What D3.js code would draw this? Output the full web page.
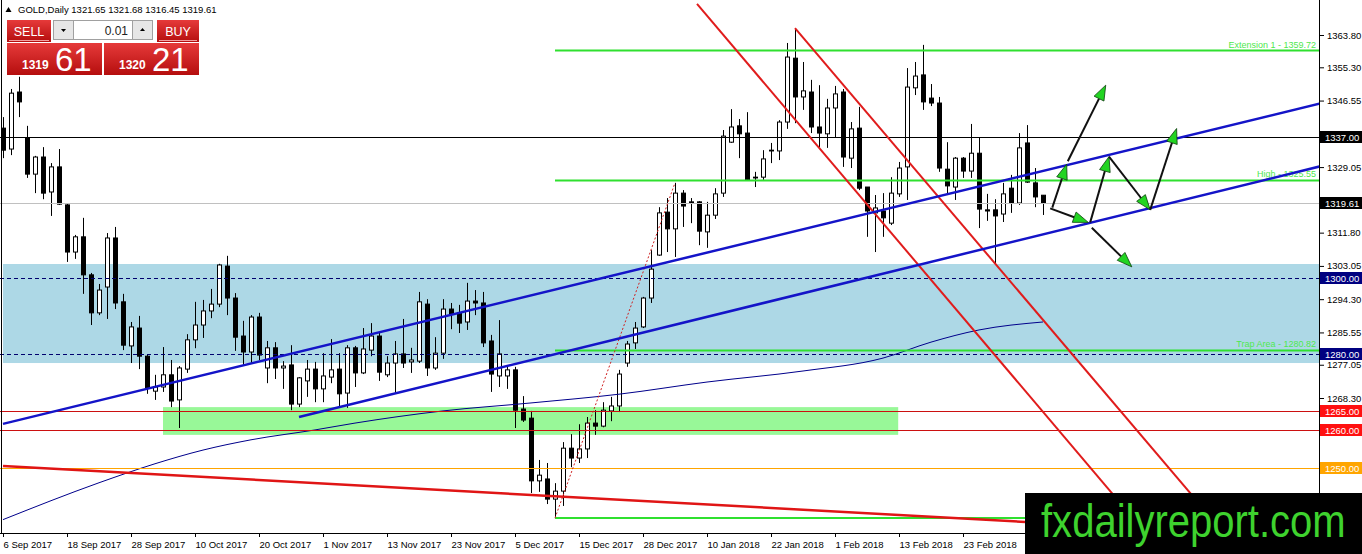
<!DOCTYPE html>
<html>
<head>
<meta charset="utf-8">
<script src="https://cdn.jsdelivr.net/npm/d3@7"></script>
<style>
  html, body { margin: 0; padding: 0; background: #fff; }
  svg { display: block; font-family: "Liberation Sans", Arial, sans-serif; }
</style>
</head>
<body>
<svg id="chart" width="1362" height="554"></svg>
<script>
// GOLD daily, 6 Sep 2017 .. early Mar 2018 (one bar per trading day)
var symbol = "GOLD,Daily";
var lastQuote = [1321.65, 1321.68, 1316.45, 1319.61];

var open = [1339.3,1333.8,1348.8,1336.7,1327.2,1331.7,1322.5,1329.1,1319.1,1306.7,
  1310.7,1300.7,1290.7,1297.5,1310.4,1293.6,1282.0,1286.7,1279.3,1270.1,
  1271.2,1274.4,1267.8,1275.9,1283.6,1287.5,1291.2,1293.0,1303.0,1294.6,
  1284.6,1280.4,1289.6,1276.2,1281.5,1276.2,1277.0,1266.7,1272.8,1275.9,
  1270.7,1273.8,1275.9,1269.6,1281.5,1274.9,1280.9,1284.6,1274.4,1277.5,
  1279.9,1277.8,1278.0,1293.0,1276.2,1280.1,1291.7,1290.7,1288.3,1293.8,
  1293.3,1283.3,1274.1,1274.1,1275.7,1265.4,1263.0,1246.5,1247.0,1241.7,
  1243.8,1255.1,1252.5,1254.9,1261.7,1260.9,1264.9,1266.2,1277.5,1282.8,
  1287.0,1294.6,1305.9,1317.2,1312.8,1322.2,1319.9,1319.9,1312.0,1316.4,
  1322.2,1335.6,1339.9,1338.0,1326.4,1326.4,1333.3,1333.3,1340.9,1357.7,
  1347.5,1348.8,1339.6,1337.8,1344.6,1348.8,1331.4,1339.3,1323.8,1317.0,
  1317.5,1314.3,1322.0,1329.1,1349.9,1353.3,1347.2,1345.9,1328.5,1323.8,
  1331.4,1328.0,1332.7,1317.8,1317.8,1316.7,1323.5,1319.6,1335.4,1324.9,
  1321.65];
var high = [1342.2,1349.6,1352.8,1339.9,1332.0,1334.3,1330.1,1333.8,1319.6,1311.2,
  1315.7,1301.2,1298.3,1311.7,1313.3,1295.7,1288.3,1289.9,1279.6,1274.4,
  1281.7,1278.3,1276.7,1285.1,1293.6,1294.1,1297.0,1303.6,1305.7,1295.9,
  1288.6,1290.1,1290.7,1283.3,1283.0,1278.0,1282.2,1273.8,1278.3,1277.8,
  1280.1,1283.8,1280.1,1282.2,1282.0,1286.7,1288.0,1285.4,1279.3,1283.3,
  1289.1,1281.5,1296.2,1294.3,1284.3,1294.3,1293.3,1292.8,1298.6,1296.7,
  1296.2,1284.9,1288.8,1276.5,1276.5,1268.8,1264.9,1252.0,1251.2,1245.9,
  1256.7,1258.8,1261.4,1263.3,1265.1,1267.2,1268.6,1275.7,1283.3,1288.3,
  1294.9,1307.2,1318.5,1320.9,1324.9,1323.0,1320.9,1320.1,1319.9,1323.5,
  1338.8,1344.3,1341.7,1343.5,1327.8,1333.5,1335.4,1341.4,1361.7,1365.6,
  1356.7,1352.0,1350.6,1347.0,1350.4,1349.6,1340.9,1344.9,1323.8,1321.7,
  1322.2,1326.4,1330.4,1355.1,1356.7,1361.2,1350.9,1347.5,1335.6,1331.7,
  1331.7,1340.4,1336.7,1322.0,1320.6,1324.9,1327.0,1338.0,1340.1,1328.8,
  1321.68];
var low = [1331.4,1332.2,1342.2,1326.2,1322.2,1320.6,1316.2,1319.1,1304.1,1304.9,
  1295.7,1287.5,1290.1,1289.1,1291.7,1280.9,1277.5,1275.9,1269.4,1267.8,
  1269.9,1265.9,1260.4,1274.9,1281.4,1284.1,1289.3,1292.2,1290.1,1280.7,
  1277.0,1277.5,1278.3,1272.2,1273.3,1270.7,1265.1,1265.9,1268.6,1267.2,
  1267.2,1272.2,1265.7,1265.7,1271.2,1274.6,1279.3,1272.8,1273.8,1269.6,
  1276.2,1274.9,1277.5,1274.1,1275.7,1278.6,1286.4,1285.4,1286.2,1290.1,
  1281.7,1269.9,1271.2,1270.7,1260.4,1262.0,1243.3,1243.6,1240.4,1236.7,
  1239.9,1250.1,1251.2,1252.5,1258.6,1260.6,1262.2,1264.6,1276.5,1281.2,
  1286.7,1293.3,1305.7,1306.7,1305.4,1313.3,1314.3,1308.5,1307.8,1315.4,
  1321.2,1335.4,1331.4,1325.4,1323.8,1325.7,1330.1,1330.9,1339.1,1340.6,
  1344.1,1338.0,1334.3,1334.1,1336.7,1329.1,1328.8,1323.0,1310.7,1306.7,
  1310.7,1313.8,1321.2,1320.4,1348.0,1344.1,1345.1,1327.8,1322.2,1320.4,
  1326.2,1326.2,1313.0,1314.9,1303.5,1314.6,1317.0,1319.1,1324.9,1318.5,
  1316.45];
var close = [1333.5,1348.5,1346.2,1327.2,1331.7,1322.2,1329.1,1319.3,1306.7,1310.7,
  1300.7,1290.7,1296.7,1310.4,1293.3,1282.2,1287.0,1279.3,1270.9,1271.2,
  1274.4,1267.5,1276.2,1283.6,1287.5,1291.2,1293.0,1303.3,1294.6,1284.3,
  1280.4,1289.6,1279.6,1281.5,1276.2,1276.7,1266.7,1273.6,1275.9,1270.7,
  1274.1,1275.7,1269.4,1281.5,1274.9,1281.2,1284.6,1275.1,1277.5,1279.9,
  1277.5,1278.3,1293.6,1276.2,1280.1,1291.7,1290.4,1288.0,1293.8,1293.3,
  1282.8,1274.6,1279.9,1275.7,1265.1,1262.5,1246.5,1248.0,1241.7,1243.8,
  1255.1,1252.5,1254.9,1261.7,1260.9,1265.1,1266.2,1274.6,1282.5,1286.7,
  1294.6,1302.2,1317.0,1312.8,1322.2,1318.8,1319.6,1312.2,1316.4,1322.0,
  1337.2,1339.6,1337.8,1325.7,1326.2,1331.2,1333.5,1340.9,1358.0,1347.5,
  1349.1,1339.6,1338.0,1344.6,1348.3,1331.7,1339.1,1323.5,1317.5,1318.3,
  1315.7,1322.2,1328.8,1350.1,1353.0,1346.2,1345.9,1328.8,1324.1,1331.4,
  1328.0,1332.7,1318.0,1317.5,1316.2,1322.0,1319.6,1334.1,1325.1,1321.2,
  1319.61];

var dateTicks = [0, 8, 16, 24, 32, 40, 48, 56, 64, 72, 80, 88, 96, 104, 112, 120];
var dateLabels = ["6 Sep 2017", "18 Sep 2017", "28 Sep 2017", "10 Oct 2017", "20 Oct 2017",
  "1 Nov 2017", "13 Nov 2017", "23 Nov 2017", "5 Dec 2017", "15 Dec 2017", "28 Dec 2017",
  "10 Jan 2018", "22 Jan 2018", "1 Feb 2018", "13 Feb 2018", "23 Feb 2018"];
var priceTicks = [1363.80, 1355.30, 1346.55, 1329.05, 1311.80, 1303.05, 1294.30,
  1285.55, 1277.05, 1268.30, 1259.55];

// 200-day average, read at a few bars
var maBars = [0, 12, 19, 25, 31, 39, 44, 55, 66, 77, 88, 100, 110, 116, 122, 130];
var maValues = [1236.3, 1246.0, 1251.0, 1254.6, 1257.3, 1259.9, 1261.7, 1264.9, 1267.0,
  1269.3, 1272.5, 1275.4, 1278.8, 1283.0, 1286.2, 1288.3];

// horizontal levels drawn on the chart
var levelPrices = [1337.00, 1319.61, 1300.00, 1280.00, 1265.00, 1260.00, 1250.00];
var fibStartBar = 69;
var fibPrices = [1359.72, 1325.55, 1280.82, 1236.7];
var fibNames = ["Extension 1 - 1359.72", "High - 1325.55", "Trap Area - 1280.82", ""];
var blueZone = [1303.55, 1277.5];
var greenZone = [1265.9, 1258.6];
var greenZoneBars = [20, 111.9];

// trend lines as [bar, price] pairs
var channelUp = [[0, 1261.5], [164.375, 1345.65]];
var channelLow = [[37, 1263.3], [164.375, 1329.1]];
var downTrend = [[0, 1250.4], [164.375, 1231.5]];
var redChannelA = [[86.75, 1372.0], [138.4, 1243.8]];
var redChannelB = [[99, 1365.6], [148.4, 1243.3]];
var rallyLine = [[69, 1236.7], [84, 1324.9]];
var arrows = [
  [[131.16, 1318.4], [132.96, 1329.8]],
  [[133.1, 1330.6], [137.84, 1350.6]],
  [[130.9, 1318.2], [135.66, 1314.5]],
  [[135.9, 1314.5], [138.25, 1331.8]],
  [[138.25, 1331.8], [143.4, 1317.8]],
  [[143.4, 1317.8], [146.7, 1339.2]],
  [[136.1, 1313.1], [141.1, 1302.8]]
];

var sellPrice = ["1319", "61"];
var buyPrice = ["1320", "21"];
var lotSize = "0.01";

// ---------------------------------------------------------------
var svg = d3.select("#chart");
var plotR = 1319, plotB = 533;

var x = d3.scaleLinear().domain([0, 164.375]).range([3, 1318]);
var y = d3.scaleLinear().domain([1363.8, 1268.3]).range([35, 398]);

var defs = svg.append("defs");
defs.append("clipPath").attr("id", "plotClip")
  .append("rect").attr("x", 0).attr("y", 0).attr("width", plotR).attr("height", plotB);
var grad = defs.append("linearGradient").attr("id", "redBtn")
  .attr("x1", 0).attr("y1", 0).attr("x2", 0).attr("y2", 1);
grad.append("stop").attr("offset", "0%").attr("stop-color", "#e63a3a");
grad.append("stop").attr("offset", "100%").attr("stop-color", "#b50e0e");

var plot = svg.append("g").attr("clip-path", "url(#plotClip)");

// zones
plot.append("rect")
  .attr("x", x(0)).attr("width", plotR - x(0))
  .attr("y", y(blueZone[0])).attr("height", y(blueZone[1]) - y(blueZone[0]))
  .attr("fill", "#add8e6");
plot.append("rect")
  .attr("x", x(greenZoneBars[0])).attr("width", x(greenZoneBars[1]) - x(greenZoneBars[0]))
  .attr("y", y(greenZone[0])).attr("height", y(greenZone[1]) - y(greenZone[0]))
  .attr("fill", "#98f898");

// candles
var bars = d3.range(open.length).map(function(i) {
  return {i: i, o: open[i], h: high[i], l: low[i], c: close[i]};
});
var candles = plot.append("g");
candles.selectAll("line").data(bars).enter().append("line")
  .attr("x1", function(d) { return Math.round(x(d.i)) + 0.5; })
  .attr("x2", function(d) { return Math.round(x(d.i)) + 0.5; })
  .attr("y1", function(d) { return y(d.h); })
  .attr("y2", function(d) { return y(d.l); })
  .attr("stroke", "#000").attr("stroke-width", 1);
candles.selectAll("rect").data(bars).enter().append("rect")
  .attr("x", function(d) { return Math.round(x(d.i)) - 1.5; })
  .attr("width", 4)
  .attr("y", function(d) { return y(Math.max(d.o, d.c)); })
  .attr("height", function(d) { return Math.max(0.8, Math.abs(y(d.o) - y(d.c))); })
  .attr("fill", function(d) { return d.c >= d.o ? "#fff" : "#000"; })
  .attr("stroke", "#000").attr("stroke-width", 1);

// moving average
plot.append("path")
  .datum(maBars.map(function(b, k) { return [b, maValues[k]]; }))
  .attr("d", d3.line().x(function(d) { return x(d[0]); }).y(function(d) { return y(d[1]); })
    .curve(d3.curveMonotoneX))
  .attr("fill", "none").attr("stroke", "#00008b").attr("stroke-width", 1);

// horizontal levels
var levelLine = d3.scaleOrdinal().domain(levelPrices)
  .range(["#000000", "#c0c0c0", "#00006e", "#00006e", "#cc1010", "#cc1010", "#ffa500"]);
var levelBox = d3.scaleOrdinal().domain(levelPrices)
  .range(["#000000", "#000000", "#000080", "#000080", "#ff1010", "#ff1010", "#ffa500"]);
plot.selectAll("line.level").data(levelPrices).enter().append("line")
  .attr("class", "level")
  .attr("x1", 0).attr("x2", plotR)
  .attr("y1", function(d) { return Math.round(y(d)) + 0.5; })
  .attr("y2", function(d) { return Math.round(y(d)) + 0.5; })
  .attr("stroke", function(d) { return levelLine(d); })
  .attr("stroke-dasharray", function(d) { return (d === 1300 || d === 1280) ? "4,3" : null; })
  .attr("stroke-width", 1);

// fib-style green levels
plot.selectAll("line.fib").data(fibPrices).enter().append("line")
  .attr("class", "fib")
  .attr("x1", x(fibStartBar)).attr("x2", plotR)
  .attr("y1", function(d) { return y(d); }).attr("y2", function(d) { return y(d); })
  .attr("stroke", "#2fe02f").attr("stroke-width", 2);
plot.selectAll("text.fib").data(fibPrices.filter(function(d, k) { return fibNames[k]; }))
  .enter().append("text")
  .attr("class", "fib")
  .attr("x", plotR - 3).attr("y", function(d) { return y(d) - 3; })
  .attr("text-anchor", "end").attr("font-size", 9).attr("fill", "#4ee84e")
  .text(function(d) { return fibNames[fibPrices.indexOf(d)]; });

// trend lines
function ray(seg, toBar) {
  var p1 = seg[0], p2 = seg[1];
  var k = (p2[1] - p1[1]) / (p2[0] - p1[0]);
  return [p1, [toBar, p1[1] + k * (toBar - p1[0])]];
}
function drawSeg(seg, color, width, dash) {
  plot.append("line")
    .attr("x1", x(seg[0][0])).attr("y1", y(seg[0][1]))
    .attr("x2", x(seg[1][0])).attr("y2", y(seg[1][1]))
    .attr("stroke", color).attr("stroke-width", width)
    .attr("stroke-dasharray", dash || null);
}
drawSeg(rallyLine, "#d02020", 1, "2,2");
drawSeg(ray(downTrend, 170), "#e01515", 2.5);
drawSeg(ray(redChannelA, 175), "#e01c1c", 2);
drawSeg(ray(redChannelB, 175), "#e01c1c", 2);
drawSeg(ray(channelUp, 170), "#1414c8", 2.5);
drawSeg(ray(channelLow, 170), "#1414c8", 2.5);

// arrows
arrows.forEach(function(a) {
  var x1 = x(a[0][0]), y1 = y(a[0][1]), x2 = x(a[1][0]), y2 = y(a[1][1]);
  var dx = x2 - x1, dy = y2 - y1, len = Math.hypot(dx, dy);
  var ux = dx / len, uy = dy / len, hl = 15, hw = 5.5;
  var bx = x2 - ux * hl, by = y2 - uy * hl;
  plot.append("line").attr("x1", x1).attr("y1", y1).attr("x2", bx).attr("y2", by)
    .attr("stroke", "#111").attr("stroke-width", 2);
  plot.append("path")
    .attr("d", "M" + x2 + "," + y2 + "L" + (bx - uy * hw) + "," + (by + ux * hw) +
      "L" + (bx + uy * hw) + "," + (by - ux * hw) + "Z")
    .attr("fill", "#22d422").attr("stroke", "#0b3d0b").attr("stroke-width", 0.8);
});

// ---- axes ----
svg.append("line").attr("x1", 1.5).attr("x2", 1.5).attr("y1", 0).attr("y2", plotB)
  .attr("stroke", "#000");
svg.append("line").attr("x1", plotR + 0.5).attr("x2", plotR + 0.5).attr("y1", 0).attr("y2", plotB)
  .attr("stroke", "#000");
svg.append("line").attr("x1", 0).attr("x2", plotR + 1).attr("y1", plotB + 0.5).attr("y2", plotB + 0.5)
  .attr("stroke", "#000");

var yAxis = svg.append("g").attr("transform", "translate(" + (plotR + 1) + ",0)")
  .call(d3.axisRight(y).tickValues(priceTicks).tickSize(4).tickPadding(3)
    .tickFormat(d3.format(".2f")));
yAxis.select(".domain").remove();
yAxis.selectAll("text").attr("font-size", 9.5).attr("font-family", "Liberation Sans, Arial, sans-serif")
  .attr("fill", "#000");

var xAxis = svg.append("g").attr("transform", "translate(0," + plotB + ")")
  .call(d3.axisBottom(x).tickValues(dateTicks).tickSize(4)
    .tickFormat(function(d, k) { return dateLabels[k]; }));
xAxis.select(".domain").remove();
xAxis.selectAll("text").attr("text-anchor", "start").attr("x", 0).attr("y", 15).attr("dy", 0)
  .attr("font-size", 9.5).attr("font-family", "Liberation Sans, Arial, sans-serif").attr("fill", "#000");

// price boxes on the axis
var boxes = svg.append("g").selectAll("g").data(levelPrices).enter().append("g")
  .attr("transform", function(d) { return "translate(" + (plotR + 1) + "," + Math.round(y(d)) + ")"; });
boxes.append("rect").attr("x", 0).attr("y", -6).attr("width", 42).attr("height", 12)
  .attr("fill", function(d) { return levelBox(d); });
boxes.append("text").attr("x", 5).attr("y", 4).attr("font-size", 9.5).attr("fill", "#fff")
  .text(function(d) { return d3.format(".2f")(d); });

// ---- header ----
svg.append("path").attr("d", "M5.5,12L8.5,7L11.5,12Z").attr("fill", "#000");
svg.append("text").attr("x", 18).attr("y", 13).attr("font-size", 9.5).attr("fill", "#000")
  .text(symbol + "  " + lastQuote.map(d3.format(".2f")).join(" "));

// ---- one-click trading panel ----
var panel = svg.append("g");
panel.append("rect").attr("x", 7).attr("y", 20).attr("width", 44).attr("height", 22).attr("fill", "url(#redBtn)");
panel.append("rect").attr("x", 157).attr("y", 20).attr("width", 42).attr("height", 22).attr("fill", "url(#redBtn)");
panel.append("line").attr("x1", 9).attr("x2", 49).attr("y1", 40.5).attr("y2", 40.5).attr("stroke", "#f3a0a0");
panel.append("line").attr("x1", 159).attr("x2", 197).attr("y1", 40.5).attr("y2", 40.5).attr("stroke", "#f3a0a0");
panel.append("text").attr("x", 29).attr("y", 35.5).attr("text-anchor", "middle")
  .attr("font-size", 12.5).attr("fill", "#fff").text("SELL");
panel.append("text").attr("x", 178).attr("y", 35.5).attr("text-anchor", "middle")
  .attr("font-size", 12.5).attr("fill", "#fff").text("BUY");
panel.append("rect").attr("x", 53.5).attr("y", 20.5).attr("width", 99).attr("height", 19)
  .attr("fill", "#fff").attr("stroke", "#a0a0a0");
panel.append("rect").attr("x", 53.5).attr("y", 20.5).attr("width", 20).attr("height", 19)
  .attr("fill", "#e6e6e6").attr("stroke", "#a0a0a0");
panel.append("rect").attr("x", 132.5).attr("y", 20.5).attr("width", 20).attr("height", 19)
  .attr("fill", "#e6e6e6").attr("stroke", "#a0a0a0");
panel.append("path").attr("d", "M61,29L66,29L63.5,32Z").attr("fill", "#000");
panel.append("path").attr("d", "M140,31L145,31L142.5,28Z").attr("fill", "#000");
panel.append("text").attr("x", 128).attr("y", 34.5).attr("text-anchor", "end")
  .attr("font-size", 12).attr("fill", "#222").text(lotSize);

[[7, sellPrice], [104, buyPrice]].forEach(function(p) {
  panel.append("rect").attr("x", p[0]).attr("y", 43).attr("width", 95).attr("height", 32)
    .attr("fill", "url(#redBtn)");
  panel.append("text").attr("x", p[0] + 15).attr("y", 69).attr("font-size", 12)
    .attr("font-weight", "bold").attr("fill", "#fff").text(p[1][0]);
  panel.append("text").attr("x", p[0] + 48).attr("y", 71).attr("font-size", 33)
    .attr("fill", "#fff").text(p[1][1]);
});

// ---- watermark box ----
svg.append("rect").attr("x", 1025).attr("y", 493).attr("width", 337).attr("height", 61).attr("fill", "#000");
svg.append("text").attr("transform", "translate(1041,537) scale(0.87,1)").attr("font-size", 46)
  .attr("fill", "#3ed22e").text("fxdailyreport.com");
</script>
</body>
</html>
